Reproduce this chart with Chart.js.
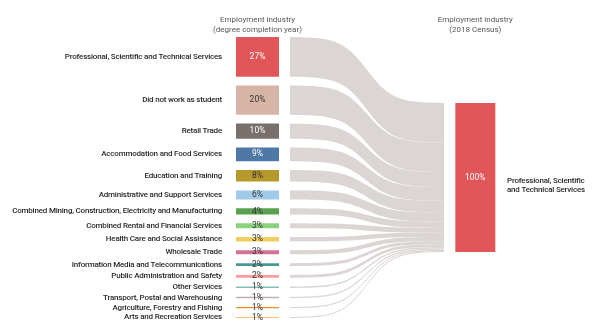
<!DOCTYPE html>
<html>
<head>
<meta charset="utf-8">
<script src="https://cdn.jsdelivr.net/npm/chart.js@4.4.1/dist/chart.umd.min.js"></script>
<style>
  html, body { margin: 0; padding: 0; background: #fff; }
  #wrap { width: 595px; height: 334px; }
</style>
</head>
<body>
<div id="wrap"><canvas id="chart"></canvas></div>
<script>
// source column: industry at degree completion year
const sourceLabels = [
    'Professional, Scientific and Technical Services',
    'Did not work as student',
    'Retail Trade',
    'Accommodation and Food Services',
    'Education and Training',
    'Administrative and Support Services',
    'Combined Mining, Construction, Electricity and Manufacturing',
    'Combined Rental and Financial Services',
    'Health Care and Social Assistance',
    'Wholesale Trade',
    'Information Media and Telecommunications',
    'Public Administration and Safety',
    'Other Services',
    'Transport, Postal and Warehousing',
    'Agriculture, Forestry and Fishing',
    'Arts and Recreation Services'
];
const sourceShares = [26.6, 19.7, 10.1, 9.2, 7.8, 6.1, 4.2, 3.3, 2.9, 2.8, 2.0, 1.9, 1.0, 0.9, 0.8, 0.7];

// target column: industry at 2018 Census
const targetLabel = ['Professional, Scientific', 'and Technical Services'];
const targetShare = 100;

const sourceHeader = ['Employment industry', '(degree completion year)'];
const targetHeader = ['Employment industry', '(2018 Census)'];

// styles
const nodeColors = ['#e15759', '#d7b5a6', '#79706e', '#4e79a7', '#b6992d', '#a0cbe8', '#59a14f', '#8cd17d',
                    '#f1ce63', '#d37295', '#499894', '#ff9d9a', '#86bcb6', '#bab0ac', '#f28e2b', '#ffbe7d'];
const whiteText = [true, false, true, true, false, false, false, false, false, false, false, false, false, false, false, false];
const targetColor = '#e15759';
const flowColor = '#dbd6d4';
const GAP = 5.9; // gap between source nodes, in share units

// x positions on a 0..1 band
const SRC_X = 0.083, TGT_X = 0.924, FLOW_X0 = 0.2085, FLOW_X1 = 0.803;

// stack the source nodes top-down
let cursor = 0;
const sourceRanges = sourceShares.map(v => {
    const r = [cursor, cursor + v];
    cursor += v + GAP;
    return r;
});
const columnTotal = cursor - GAP;
const targetStart = (columnTotal - targetShare) / 2;
let tcursor = targetStart;
const flowEnds = sourceShares.map(v => {
    const r = [tcursor, tcursor + v];
    tcursor += v;
    return r;
});

function ease(t) {
    const L = z => 1 / (1 + Math.exp(-z));
    return (L(12 * t - 6) - L(-6)) / (L(6) - L(-6));
}

const flowPlugin = {
    id: 'flows',
    beforeDatasetsDraw(chart) {
        const ctx = chart.ctx, xs = chart.scales.x, ys = chart.scales.y;
        const x0 = xs.getPixelForValue(FLOW_X0), x1 = xs.getPixelForValue(FLOW_X1);
        const steps = 48;
        ctx.save();
        ctx.fillStyle = flowColor;
        sourceRanges.forEach((r, i) => {
            const a0 = ys.getPixelForValue(r[0]), b0 = ys.getPixelForValue(r[1]);
            const a1 = ys.getPixelForValue(flowEnds[i][0]), b1 = ys.getPixelForValue(flowEnds[i][1]);
            ctx.beginPath();
            for (let k = 0; k <= steps; k++) {
                const t = k / steps, s = ease(t);
                ctx.lineTo(x0 + (x1 - x0) * t, a0 + (a1 - a0) * s);
            }
            for (let k = steps; k >= 0; k--) {
                const t = k / steps, s = ease(t);
                ctx.lineTo(x0 + (x1 - x0) * t, b0 + (b1 - b0) * s);
            }
            ctx.closePath();
            ctx.fill();
        });
        ctx.restore();
    }
};

const labelPlugin = {
    id: 'nodeLabels',
    afterDatasetsDraw(chart) {
        const ctx = chart.ctx, xs = chart.scales.x, ys = chart.scales.y;
        const font = 'Roboto, sans-serif';
        ctx.save();
        ctx.textBaseline = 'middle';

        // headers
        ctx.fillStyle = '#555';
        ctx.font = '8px ' + font;
        ctx.textAlign = 'center';
        sourceHeader.forEach((t, i) => ctx.fillText(t, xs.getPixelForValue(SRC_X), 20 + i * 10));
        targetHeader.forEach((t, i) => ctx.fillText(t, xs.getPixelForValue(TGT_X), 20 + i * 10));

        // source labels and shares
        const srcX = xs.getPixelForValue(SRC_X);
        sourceLabels.forEach((name, i) => {
            const yc = ys.getPixelForValue((sourceRanges[i][0] + sourceRanges[i][1]) / 2);
            ctx.font = '500 8px ' + font;
            ctx.letterSpacing = '-0.2px';
            ctx.textAlign = 'right';
            ctx.fillStyle = '#2a2a2a';
            ctx.fillText(name, 222, yc);
            ctx.letterSpacing = '0px';
            ctx.font = '8.5px ' + font;
            ctx.textAlign = 'center';
            ctx.fillStyle = whiteText[i] ? '#fff' : '#333';
            ctx.fillText(Math.round(sourceShares[i]) + '%', srcX, yc);
        });

        // target
        const tgtX = xs.getPixelForValue(TGT_X);
        const tc = ys.getPixelForValue(targetStart + targetShare / 2);
        ctx.textAlign = 'center';
        ctx.fillStyle = '#fff';
        ctx.fillText(targetShare + '%', tgtX, tc);
        ctx.font = '500 8px ' + font;
        ctx.letterSpacing = '-0.2px';
        ctx.textAlign = 'left';
        ctx.fillStyle = '#2a2a2a';
        targetLabel.forEach((t, i) => ctx.fillText(t, 507, tc + 3 + i * 9.5));
        ctx.restore();
    }
};

const ctx = document.getElementById('chart').getContext('2d');
const myChart = new Chart(ctx, {
    type: 'bar',
    data: {
        datasets: [{
            label: 'Degree completion year',
            data: sourceRanges.map(r => ({ x: SRC_X, y: r })),
            backgroundColor: nodeColors,
            maxBarThickness: 43,
            grouped: false,
            clip: false
        }, {
            label: '2018 Census',
            data: [{ x: TGT_X, y: [targetStart, targetStart + targetShare] }],
            backgroundColor: targetColor,
            maxBarThickness: 40,
            grouped: false,
            clip: false
        }]
    },
    options: {
        responsive: true,
        maintainAspectRatio: false,
        animation: false,
        layout: { padding: { left: 236, right: 100, top: 37, bottom: 16 } },
        plugins: { legend: { display: false }, tooltip: { enabled: false } },
        scales: {
            // one tick per unit so the bar ruler doesn't shrink the nodes
            x: { type: 'linear', min: 0, max: 1, offset: false, display: false, ticks: { stepSize: 1 } },
            y: { type: 'linear', min: 0, max: columnTotal, reverse: true, display: false }
        }
    },
    plugins: [flowPlugin, labelPlugin]
});
</script>
</body>
</html>
